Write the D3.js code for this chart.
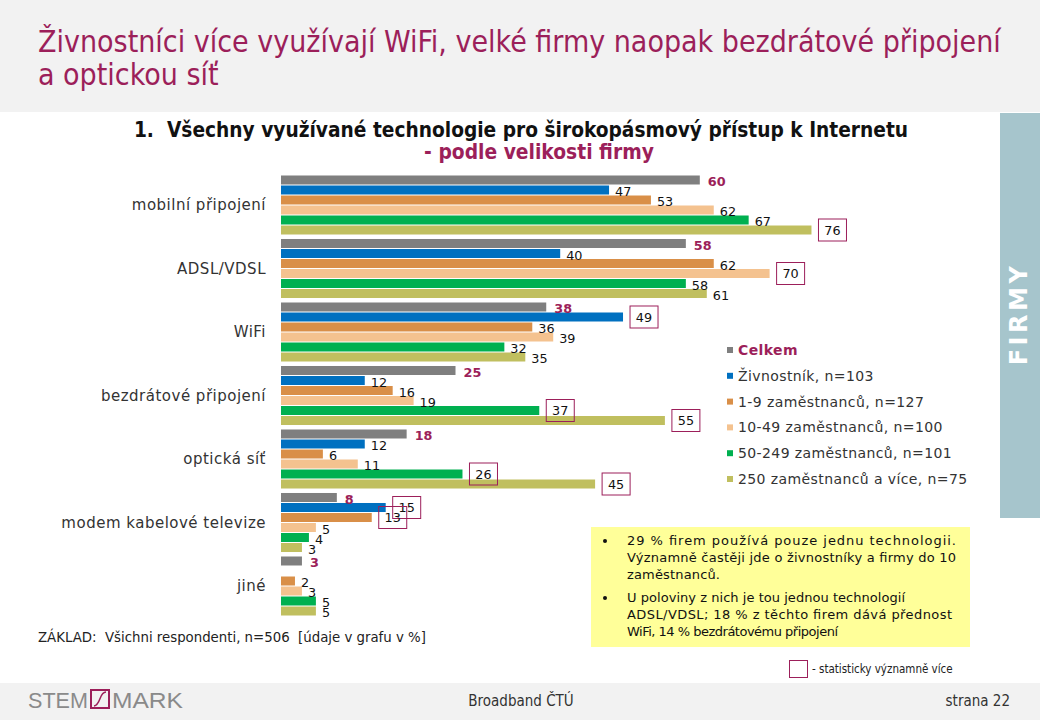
<!DOCTYPE html>
<html><head><meta charset="utf-8">
<script src="https://cdn.jsdelivr.net/npm/d3@7"></script>
<style>
html,body{margin:0;padding:0;background:#fff;}
svg{display:block;}
</style></head>
<body>
<svg id="c" width="1040" height="720"></svg>
<script>
const categories = ["mobilní připojení","ADSL/VDSL","WiFi","bezdrátové připojení","optická síť","modem kabelové televize","jiné"];
const seriesNames = ["Celkem","Živnostník, n=103","1-9 zaměstnanců, n=127","10-49 zaměstnanců, n=100","50-249 zaměstnanců, n=101","250 zaměstnanců a více, n=75"];
const celkem    = [60,58,38,25,18,8,3];
const zivnostnik= [47,40,49,12,12,15,null];
const z1_9      = [53,62,36,16,6,13,2];
const z10_49    = [62,70,39,19,11,5,3];
const z50_249   = [67,58,32,37,26,4,5];
const z250      = [76,61,35,55,45,3,5];
// significant: [category index, series index]
const significant = [[0,5],[1,3],[2,1],[3,4],[3,5],[4,4],[4,5],[5,1],[5,2]];
const colors = ["#7f7f7f","#0070c0","#d98f48","#f4c28f","#00b050","#c0bf5f"];
const noteLines1 = ["29 % firem používá pouze jednu technologii.","Významně častěji jde o živnostníky a firmy do 10","zaměstnanců."];
const noteLines2 = ["U poloviny z nich je tou jednou technologií","ADSL/VDSL;  18 %  z těchto firem dává přednost","WiFi, 14 % bezdrátovému připojení"];

const series = [celkem,zivnostnik,z1_9,z10_49,z50_249,z250];
const ACC = "#9c1f5a";
const svg = d3.select("#c");
const COND = "'DejaVu Sans Condensed','DejaVu Sans',sans-serif";
const SANS = "'DejaVu Sans',Verdana,sans-serif";

// backgrounds
svg.append("rect").attr("x",0).attr("y",0).attr("width",1040).attr("height",112).attr("fill","#f2f2f2");
svg.append("rect").attr("x",0).attr("y",683).attr("width",1040).attr("height",37).attr("fill","#f2f2f2");
svg.append("rect").attr("x",1000).attr("y",113).attr("width",40).attr("height",405).attr("fill","#a6c5cc");
svg.append("text").attr("transform","translate(1027,314) rotate(-90)").attr("text-anchor","middle")
  .attr("font-family",SANS).attr("font-weight","bold").attr("font-size",24).attr("letter-spacing",3.5)
  .attr("fill","#fff").text("FIRMY");

// title
const tt = svg.append("text").attr("font-family",COND).attr("font-size",30).attr("fill",ACC);
tt.append("tspan").attr("x",38).attr("y",52).text("Živnostníci více využívají WiFi, velké firmy naopak bezdrátové připojení");
tt.append("tspan").attr("x",38).attr("y",85).text("a optickou síť");

// chart title
svg.append("text").attr("x",521).attr("y",137).attr("text-anchor","middle").attr("font-family",COND)
  .attr("font-weight","bold").attr("font-size",20.7).attr("fill","#111")
  .text("1.\u00a0\u00a0Všechny využívané technologie pro širokopásmový přístup k Internetu");
svg.append("text").attr("x",539).attr("y",159).attr("text-anchor","middle").attr("font-family",COND)
  .attr("font-weight","bold").attr("font-size",20.8).attr("fill",ACC).text("- podle velikosti firmy");

// scales
const x = d3.scaleLinear().domain([0,100]).range([281,979]);
const y0 = d3.scaleBand().domain(categories).range([173.25,617.75]).paddingInner(0.055).paddingOuter(0.0275);
const y1 = d3.scaleBand().domain(d3.range(series.length)).range([0,y0.bandwidth()]).paddingInner(0.1).paddingOuter(0.05);

// category labels
svg.append("g").selectAll("text").data(categories).join("text")
  .attr("x",266).attr("y",d=>y0(d)+y0.bandwidth()/2).attr("dy","0.35em")
  .attr("text-anchor","end").attr("font-family",SANS).attr("font-size",15).attr("letter-spacing",0.5)
  .attr("fill","#333").text(d=>d);

// bars
const flat = [];
categories.forEach((c,ci)=>series.forEach((s,si)=>{
  if(s[ci]!=null) flat.push({c,ci,si,v:s[ci],sig:significant.some(p=>p[0]===ci&&p[1]===si)});
}));
const g = svg.append("g");
g.selectAll("rect.bar").data(flat).join("rect").attr("class","bar")
  .attr("x",x(0)).attr("y",d=>y0(d.c)+y1(d.si)).attr("width",d=>x(d.v)-x(0)).attr("height",y1.bandwidth())
  .attr("fill",d=>colors[d.si]);

// labels
flat.forEach(d=>{
  const cy = y0(d.c)+y1(d.si)+y1.bandwidth()/2;
  const xe = x(d.v);
  if(d.sig){
    g.append("rect").attr("x",xe+7).attr("y",cy-11).attr("width",28).attr("height",22)
      .attr("fill","none").attr("stroke",ACC).attr("stroke-width",1);
    g.append("text").attr("x",xe+21).attr("y",cy).attr("dy","0.36em").attr("text-anchor","middle")
      .attr("font-family",SANS).attr("font-size",12.8).attr("fill","#111").text(d.v);
  } else {
    g.append("text").attr("x",xe+(d.si===0?8:6)).attr("y",cy+1.5).attr("dy","0.36em")
      .attr("font-family",SANS).attr("font-size",12.8)
      .attr("font-weight",d.si===0?"bold":"normal")
      .attr("fill",d.si===0?ACC:"#111").text(d.v);
  }
});

// legend
const leg = svg.append("g");
seriesNames.forEach((n,i)=>{
  const yy = 350 + i*25.8;
  leg.append("rect").attr("x",727).attr("y",yy-3).attr("width",6).attr("height",6).attr("fill",colors[i]);
  leg.append("text").attr("x",738).attr("y",yy).attr("dy","0.36em").attr("font-family",SANS)
    .attr("font-size",14).attr("letter-spacing",0.4).attr("font-weight",i===0?"bold":"normal")
    .attr("fill",i===0?ACC:"#333").text(n);
});

// note box
svg.append("rect").attr("x",591).attr("y",527).attr("width",379).attr("height",120).attr("fill","#ffff99");
const nb = svg.append("g").attr("font-family",SANS).attr("font-size",13).attr("fill","#111");
const noteW = [[329,329,93],[278,325,211]];
[[noteLines1,545],[noteLines2,602]].forEach(([lines,y],k)=>{
  nb.append("circle").attr("cx",605).attr("cy",y-4).attr("r",2).attr("fill","#111");
  lines.forEach((l,i)=>nb.append("text").attr("x",627).attr("y",y+i*17)
    .attr("textLength",noteW[k][i]).attr("lengthAdjust","spacing").text(l));
});

// base
svg.append("text").attr("x",38).attr("y",642).attr("font-family",COND).attr("font-size",14.8).attr("fill","#222")
  .text("ZÁKLAD:\u00a0 Všichni respondenti, n=506\u00a0 [údaje v grafu v %]");

// significance legend
svg.append("rect").attr("x",789.5).attr("y",660.5).attr("width",18).attr("height",17).attr("fill","none").attr("stroke",ACC);
svg.append("text").attr("x",812).attr("y",673).attr("font-family",COND).attr("font-size",11.5).attr("fill","#222")
  .text("- statisticky významně více");

// footer
svg.append("text").attr("x",521).attr("y",706).attr("text-anchor","middle").attr("font-family",COND).attr("font-size",15).attr("fill","#333").text("Broadband ČTÚ");
svg.append("text").attr("x",1010).attr("y",706).attr("text-anchor","end").attr("font-family",COND).attr("font-size",15).attr("fill","#333").text("strana 22");
// logo
const lg = svg.append("g").attr("font-family","'Liberation Sans',Arial,sans-serif").attr("font-size",22).attr("fill","#8a8a8a");
lg.append("text").attr("x",28).attr("y",708).attr("textLength",60).attr("lengthAdjust","spacingAndGlyphs").text("STEM");
lg.append("rect").attr("x",91).attr("y",690).attr("width",18).attr("height",18).attr("fill","none").attr("stroke",ACC).attr("stroke-width",2);
lg.append("path").attr("d","M94,706 C101,705 99,692 106,692").attr("fill","none").attr("stroke",ACC).attr("stroke-width",1.5);
lg.append("text").attr("x",112).attr("y",708).attr("textLength",71).attr("lengthAdjust","spacingAndGlyphs").text("MARK");
</script>
</body></html>
